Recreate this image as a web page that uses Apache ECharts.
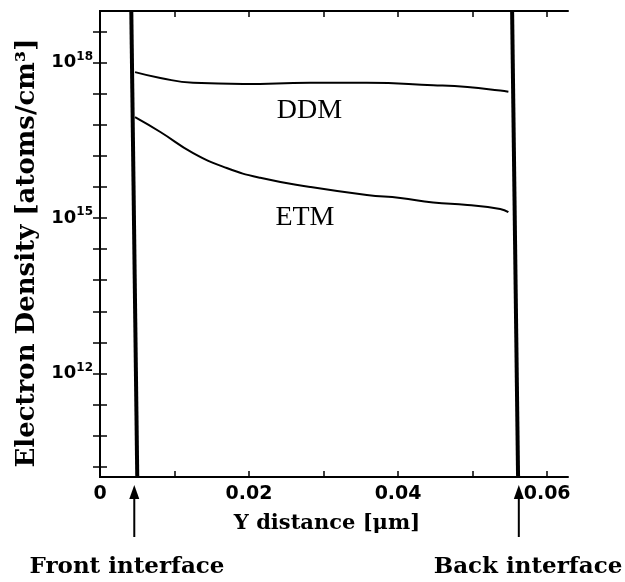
<!DOCTYPE html>
<html>
<head>
<meta charset="utf-8">
<script src="https://cdn.jsdelivr.net/npm/echarts@6/dist/echarts.min.js"></script>
<style>
  html, body { margin: 0; padding: 0; background: #fff; }
  #chart { width: 625px; height: 582px; }
</style>
</head>
<body>
<div id="chart"></div>
<script>
// x ticks / labels (um)
const xTicks = [0.01, 0.02, 0.03, 0.04, 0.05, 0.06]
const xLabels = [0, 0.02, 0.04, 0.06]
// y ticks as powers of ten
const yTickExp = [10.2, 10.8, 11.4, 12, 12.6, 13.2, 13.8, 14.4, 15, 15.6, 16.2, 16.8, 17.4, 18, 18.6]
const yLabelExp = [12, 15, 18]

// DDM curve
const ddmX = [0.0047, 0.0081, 0.0125, 0.0192, 0.0282, 0.0358, 0.0447, 0.0493, 0.0537, 0.0548]
const ddmY = [6.6e17, 5.1e17, 4.1e17, 3.9e17, 4.1e17, 4.1e17, 3.7e17, 3.4e17, 2.9e17, 2.75e17]
// ETM curve
const etmX = [0.0047, 0.0081, 0.0125, 0.0170, 0.0215, 0.0282, 0.0358, 0.0403, 0.0447, 0.0493, 0.0537, 0.0548]
const etmY = [8.9e16, 4.6e16, 1.8e16, 9.3e15, 6.0e15, 4.0e15, 2.8e15, 2.45e15, 2.0e15, 1.8e15, 1.5e15, 1.3e15]
// interfaces (steep drop)
const frontX = [0.0042, 0.0050]
const backX = [0.0553, 0.0561]
const interfaceY = [1e19, 1e10]
const arrowX = [0.0046, 0.0562]

const pair = (xs, ys) => xs.map((x, i) => [x, ys[i]])
const pow10 = e => Math.pow(10, e)

const chart = echarts.init(document.getElementById('chart'))

const axisLine = { show: true, lineStyle: { color: '#000', width: 2 } }
const tickStyle = { lineStyle: { color: '#000', width: 1.5 } }
const tickFont = { fontFamily: 'DejaVu Sans', fontWeight: 'bold', fontSize: 19, color: '#000' }
const serif = 'DejaVu Serif'

function xAxis(pos, withLabels) {
  return {
    type: 'value',
    position: pos,
    min: 0,
    max: 0.0628,
    splitLine: { show: false },
    axisLine: axisLine,
    axisTick: { show: true, inside: true, length: 6, customValues: xTicks, ...tickStyle },
    axisLabel: withLabels ? {
      show: true,
      margin: 8,
      customValues: xLabels,
      formatter: v => (v === 0 ? '0' : String(+v.toFixed(2))),
      ...tickFont
    } : { show: false },
    name: withLabels ? 'Y distance [\u03bcm]' : '',
    nameLocation: 'middle',
    nameGap: 36,
    nameTextStyle: { fontFamily: serif, fontWeight: 'bold', fontSize: 21, color: '#000', padding: [0, 14, 0, 0] }
  }
}

function yAxis(pos, withLabels) {
  return {
    type: 'log',
    position: pos,
    min: 1e10,
    max: 1e19,
    splitLine: { show: false },
    minorTick: { show: false },
    axisLine: axisLine,
    axisTick: { show: true, inside: true, length: 7, customValues: yTickExp.map(pow10), ...tickStyle },
    axisLabel: withLabels ? {
      show: true,
      margin: 7,
      customValues: yLabelExp.map(pow10),
      formatter: v => '{b|10}{s|' + Math.round(Math.log10(v)) + '}',
      rich: {
        b: { ...tickFont, fontSize: 18 },
        s: { ...tickFont, fontSize: 12, padding: [0, 0, 12, 0] }
      }
    } : { show: false },
    name: withLabels ? 'Electron Density [atoms/cm\u00b3]' : '',
    nameLocation: 'middle',
    nameGap: 60,
    nameTextStyle: { fontFamily: serif, fontWeight: 'bold', fontSize: 26, color: '#000', padding: [0, 18, 0, 0] }
  }
}

function curve(name, data, label, at) {
  return {
    name: name,
    type: 'line',
    data: data,
    smooth: 0.5,
    showSymbol: false,
    symbol: 'none',
    lineStyle: { color: '#000', width: 2 },
    markPoint: {
      symbol: 'circle',
      symbolSize: 0,
      data: [{
        coord: at,
        label: {
          show: true,
          position: 'inside',
          formatter: label,
          fontFamily: 'Liberation Serif',
          fontSize: 28,
          color: '#000'
        }
      }]
    }
  }
}

function wall(name, xs) {
  return {
    name: name,
    type: 'line',
    data: pair(xs, interfaceY),
    showSymbol: false,
    symbol: 'none',
    lineStyle: { color: '#000', width: 4 }
  }
}

chart.setOption({
  backgroundColor: '#fff',
  animation: false,
  grid: { left: 100, right: 57, top: 11, bottom: 105 },
  xAxis: [xAxis('bottom', true), xAxis('top', false)],
  yAxis: [yAxis('left', true), yAxis('right', false)],
  series: [
    wall('front', frontX),
    wall('back', backX),
    curve('DDM', pair(ddmX, ddmY), 'DDM', [0.0281, 1.17e17]),
    curve('ETM', pair(etmX, etmY), 'ETM', [0.0275, 1.0e15])
  ]
})

// arrows + interface captions below the axis
const arrows = arrowX.map(v => {
  const px = chart.convertToPixel({ xAxisIndex: 0 }, v)
  return {
    type: 'group',
    children: [
      { type: 'line', shape: { x1: px, y1: 492, x2: px, y2: 537 }, style: { stroke: '#000', lineWidth: 2 } },
      { type: 'polygon', shape: { points: [[px, 485], [px - 5, 499], [px + 5, 499]] }, style: { fill: '#000' } }
    ]
  }
})
const captionStyle = { fontFamily: serif, fontWeight: 'bold', fontSize: 23, fill: '#000', textAlign: 'center', textVerticalAlign: 'middle' }
chart.setOption({
  graphic: [
    ...arrows,
    { type: 'text', x: 127, y: 567, style: { text: 'Front interface', ...captionStyle } },
    { type: 'text', x: 528, y: 567, style: { text: 'Back interface', ...captionStyle } }
  ]
})
</script>
</body>
</html>
